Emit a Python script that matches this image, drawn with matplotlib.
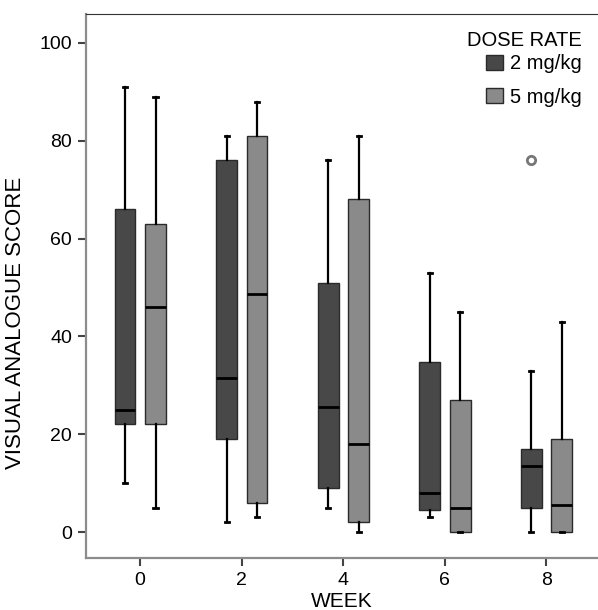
import matplotlib
matplotlib.use("Agg")
import matplotlib.pyplot as plt
from matplotlib.patches import Patch

plt.rcParams["font.family"] = ["Liberation Sans", "DejaVu Sans"]

# Weeks and dose groups.
weeks = [0, 2, 4, 6, 8]
doses = ["2 mg/kg", "5 mg/kg"]

# Box stats: low whisker, Q1, median, Q3, high whisker.
low_2 = [10, 2, 5, 3, 0]
q1_2 = [22, 19, 9, 4.5, 5]
med_2 = [25, 31.6, 25.6, 8, 13.6]
q3_2 = [66, 76, 51, 34.7, 17]
high_2 = [91, 81, 76, 53, 33]
out_2 = [[], [], [], [], [76]]

low_5 = [5, 3, 0, 0, 0]
q1_5 = [22, 6, 2, 0, 0]
med_5 = [46, 48.6, 18, 5, 5.6]
q3_5 = [63, 81, 68, 27, 19]
high_5 = [89, 88, 81, 45, 43]
out_5 = [[], [], [], [], []]

colors = {"2 mg/kg": "#484848", "5 mg/kg": "#8a8a8a"}


def make_stats(lo, q1, med, q3, hi, fl):
    return [
        dict(whislo=a, q1=b, med=c, q3=d, whishi=e, fliers=f)
        for a, b, c, d, e, f in zip(lo, q1, med, q3, hi, fl)
    ]


groups = [
    ("2 mg/kg", make_stats(low_2, q1_2, med_2, q3_2, high_2, out_2), -0.295),
    ("5 mg/kg", make_stats(low_5, q1_5, med_5, q3_5, high_5, out_5), 0.305),
]

fig = plt.figure(figsize=(5.98, 6.10), dpi=100)
ax = fig.add_axes([0.1438, 0.0852, 0.8562, 0.8918])

for name, stats, shift in groups:
    ax.bxp(
        stats,
        positions=[w + shift for w in weeks],
        widths=0.41,
        capwidths=0.08,
        patch_artist=True,
        manage_ticks=False,
        boxprops=dict(facecolor=colors[name], edgecolor="#2a2a2a", linewidth=1.0),
        medianprops=dict(color="black", linewidth=2.0),
        whiskerprops=dict(color="black", linewidth=1.6),
        capprops=dict(color="black", linewidth=2.0),
        flierprops=dict(marker="o", markersize=6, markerfacecolor="white",
                        markeredgecolor="#777777", markeredgewidth=2),
    )

ax.set_xlim(-1.064, 9.02)
ax.set_ylim(-5.3, 105.9)
ax.set_xticks(weeks)
ax.set_xticklabels([str(w) for w in weeks])
ax.set_yticks([0, 20, 40, 60, 80, 100])

ax.spines["right"].set_visible(False)
ax.spines["top"].set_color("#333333")
ax.spines["top"].set_linewidth(0.8)
for side in ["left", "bottom"]:
    ax.spines[side].set_color("#8c8c8c")
    ax.spines[side].set_linewidth(1.6)
ax.tick_params(axis="both", direction="out", length=6, width=1.5,
               color="#444444", labelsize=14, pad=4)

ax.set_ylabel("VISUAL ANALOGUE SCORE", fontsize=16)
ax.yaxis.set_label_coords(-0.117, 0.432)
ax.set_xlabel("WEEK", fontsize=15, labelpad=2)

# Legend: title as its own text, entries below.
ax.text(0.969, 0.952, "DOSE RATE", transform=ax.transAxes, ha="right",
        va="center", fontsize=14.5)
legend_elements = [
    Patch(facecolor=colors[d], edgecolor="#2a2a2a", label=d) for d in doses
]
ax.legend(handles=legend_elements, loc="upper right", frameon=False,
          fontsize=14.5, handlelength=0.85, handleheight=0.8,
          handletextpad=0.35, labelspacing=0.72, borderpad=0,
          borderaxespad=0, bbox_to_anchor=(0.969, 0.926))

fig.savefig("out.png", dpi=100)
